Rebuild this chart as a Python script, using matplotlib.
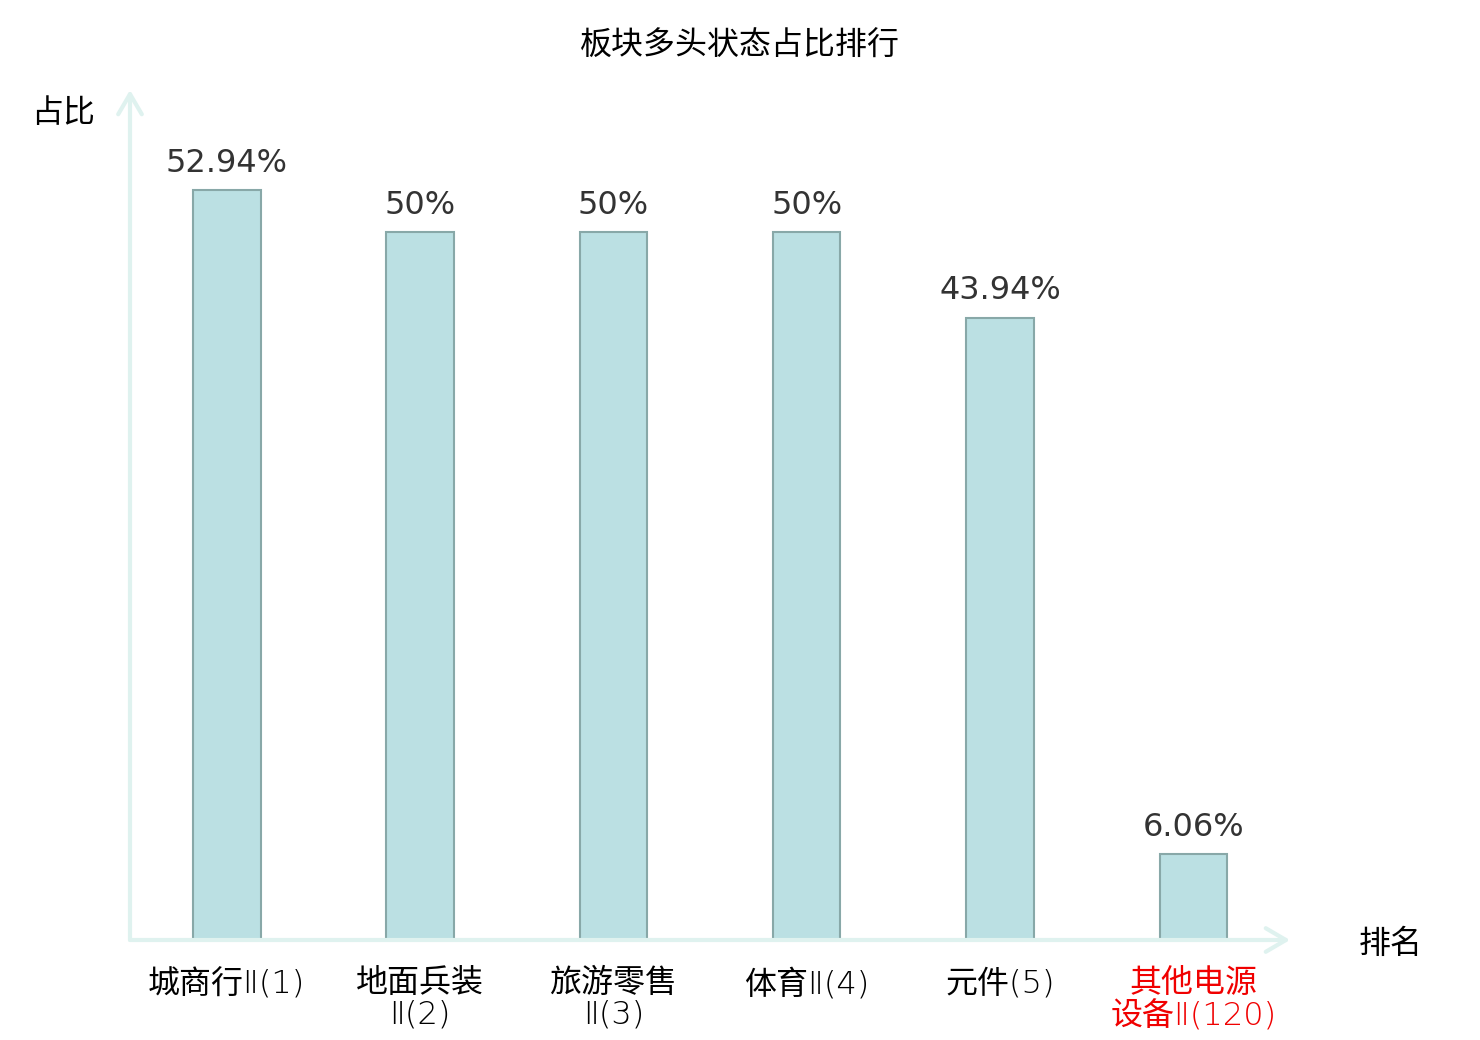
import matplotlib
matplotlib.use("Agg")
import matplotlib.pyplot as plt
import numpy as np

plt.rcParams['font.family'] = ['Noto Sans CJK SC', 'DejaVu Sans']

# data
categories = ["城商行Ⅱ(1)", "地面兵装\nⅡ(2)", "旅游零售\nⅡ(3)", "体育Ⅱ(4)", "元件(5)", "其他电源\n设备Ⅱ(120)"]
values = [52.94, 50, 50, 50, 43.94, 6.06]
value_labels = ["52.94%", "50%", "50%", "50%", "43.94%", "6.06%"]
label_colors = ["black", "black", "black", "black", "black", "#f00000"]

FS = 23

fig = plt.figure(figsize=(14.8, 10.4), dpi=100)
ax = fig.add_axes([130 / 1480, 100 / 1040, 1160 / 1480, 850 / 1040])

x = np.arange(len(values))
bars = ax.bar(x, values, width=0.35, color="#bbe0e3", edgecolor="#88a8a8", linewidth=1.5, zorder=3)

for b, lab in zip(bars, value_labels):
    ax.annotate(lab, (b.get_x() + b.get_width() / 2, b.get_height()),
                xytext=(0, 8), textcoords="offset points", ha="center", va="bottom",
                fontsize=FS, color="#333333", family="DejaVu Sans")

ax.set_xlim(-0.5, 5.5)
ax.set_ylim(0, 60)
ax.set_xticks(x)
# latin part thin (DejaVu ExtraLight), CJK falls back to Noto Sans CJK
ax.set_xticklabels(categories, fontsize=FS, linespacing=1.08,
                   family=["DejaVu Sans", "Noto Sans CJK SC"], fontweight=200)
for t, c in zip(ax.get_xticklabels(), label_colors):
    t.set_color(c)
ax.tick_params(axis="x", length=0, pad=20)
ax.set_yticks([])
for s in ax.spines.values():
    s.set_visible(False)

# axis arrows
axis_color = "#dff2ef"
arrow_style = "->,head_length=1.45,head_width=0.85"
ax.annotate("", xy=(1.0, 0), xytext=(0, 0), xycoords="axes fraction",
            arrowprops=dict(arrowstyle=arrow_style, color=axis_color, lw=3, shrinkA=0, shrinkB=0))
ax.annotate("", xy=(0, 1.0), xytext=(0, 0), xycoords="axes fraction",
            arrowprops=dict(arrowstyle=arrow_style, color=axis_color, lw=3, shrinkA=0, shrinkB=0))

fig.text(740 / 1480, 1 - 46 / 1040, "板块多头状态占比排行", ha="center", va="center", fontsize=FS)
fig.text(63 / 1480, 1 - 113 / 1040, "占比", ha="center", va="center", fontsize=FS)
fig.text(1391 / 1480, 1 - 944 / 1040, "排名", ha="center", va="center", fontsize=FS)

fig.savefig("out.png", dpi=100)
